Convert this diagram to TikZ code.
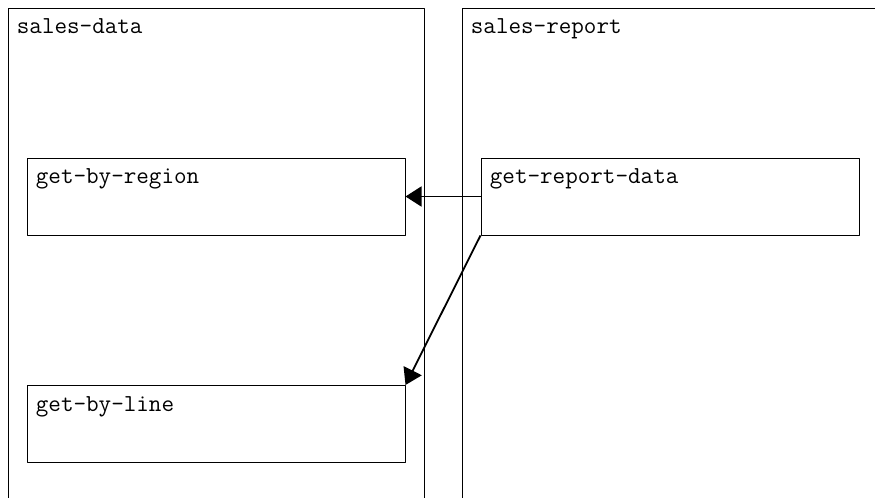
\documentclass[tikz,border=0pt]{standalone}
\usepackage{fontspec}
\usetikzlibrary{arrows.meta}
\begin{document}
\begin{tikzpicture}[x=0.5pt,y=-0.5pt,line join=round,
    font=\fontsize{12.2}{14}\selectfont\ttfamily,
    panel/.style={draw,line width=0.5pt,minimum width=208pt,minimum height=256pt,inner sep=0pt},
    fnbox/.style={draw,line width=0.5pt,minimum width=189pt,minimum height=38.5pt,inner sep=0pt},
    lbl/.style={anchor=base west,inner sep=0pt},
    call/.style={-{Triangle[length=8pt,width=10pt]},line width=0.9pt}]
    \clip (0,0) rectangle (875,498);
    % packages
    \node[panel] (data) at (216,264) {};
    \node[lbl] (datalbl) at ([xshift=4.5pt,yshift=-13pt]data.north west) {sales-data};
    \node[panel,minimum width=209pt] (report) at (671,264) {};
    \node[lbl] (reportlbl) at ([xshift=4.5pt,yshift=-13pt]report.north west) {sales-report};
    % functions
    \node[fnbox] (region) at (216,196.5) {};
    \node[lbl] (regionlbl) at ([xshift=4.5pt,yshift=-13pt]region.north west) {get-by-region};
    \node[fnbox] (line) at (216,424) {};
    \node[lbl] (linelbl) at ([xshift=4.5pt,yshift=-13pt]line.north west) {get-by-line};
    \node[fnbox] (reportdata) at (670,196.5) {};
    \node[lbl] (reportdatalbl) at ([xshift=4.5pt,yshift=-13pt]reportdata.north west) {get-report-data};
    % calls
    \draw[call] (reportdata.west) -- (region.east);
    \draw[call] (reportdata.south west) -- (line.north east);
\end{tikzpicture}
\end{document}
